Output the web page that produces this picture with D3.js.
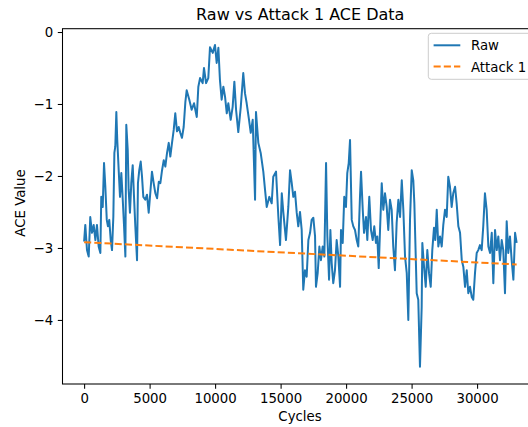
<!DOCTYPE html>
<html>
<head>
<meta charset="utf-8">
<script src="https://cdn.jsdelivr.net/npm/d3@7"></script>
<style>
body { margin: 0; background: #fff; }
text { font-family: "DejaVu Sans", sans-serif; }
</style>
</head>
<body>
<div id="chart"></div>
<script>
// cycles and ACE values
var rawCycles = [0, 90, 220, 350, 470, 600, 730, 860, 980, 1110,
  1240, 1310, 1420, 1520, 1620, 1730, 1820, 1920, 2030, 2130,
  2230, 2310, 2380, 2460, 2530, 2640, 2740, 2840, 2950, 3050,
  3150, 3220, 3330, 3400, 3500, 3600, 3710, 3810, 3910, 4040,
  4110, 4210, 4320, 4420, 4520, 4670, 4800, 4930, 5050, 5180,
  5310, 5440, 5570, 5700, 5820, 5950, 6080, 6200, 6330, 6460,
  6580, 6710, 6840, 6960, 7090, 7220, 7340, 7470, 7600, 7730,
  7830, 8030, 8210, 8390, 8600, 8720, 8850, 9050, 9150, 9310,
  9480, 9610, 9820, 9990, 10120, 10250, 10370, 10500, 10630, 10760,
  10890, 11010, 11190, 11340, 11470, 11600, 11770, 11960, 12150, 12280,
  12410, 12590, 12720, 12870, 13050, 13120, 13300, 13480, 13680, 13810,
  13940, 14140, 14320, 14440, 14650, 14830, 14960, 15090, 15210, 15410,
  15590,
  15720, 15850, 15970, 16100, 16230, 16350, 16480, 16610, 16730, 16860,
  16990, 17120, 17250, 17370, 17500, 17630, 17700, 17830, 17960, 18080,
  18210, 18340, 18470, 18570, 18700, 18800, 18900, 19020, 19150, 19280,
  19410, 19540, 19610, 19740, 19860, 19990, 20090, 20200, 20300, 20430,
  20550, 20680, 20810, 20930, 21060, 21140, 21270, 21370, 21520, 21620,
  21770, 21900, 22030, 22150, 22280, 22380, 22490, 22590, 22720, 22840,
  22970, 23100, 23220, 23350, 23480, 23600, 23730, 23860, 23990, 24120,
  24250, 24370, 24500, 24630, 24750, 24880, 25010, 25130, 25210, 25390,
  25510, 25640, 25770, 25820, 25950, 26080, 26200, 26330, 26460, 26580,
  26710, 26810, 26920, 27040, 27170, 27300, 27420, 27550, 27680, 27800,
  27930, 28060, 28180, 28320, 28440, 28570, 28700, 28830, 28950, 29080,
  29210, 29330, 29460, 29590, 29710, 29840, 29970, 30090, 30220, 30350,
  30470, 30600, 30730, 30860, 30990, 31120, 31240, 31370, 31500, 31620,
  31750, 31880, 32000, 32130, 32260, 32380, 32510, 32640, 32770, 32900,
  33020];

var rawValues = [-2.91, -2.68, -3.03, -3.12, -2.57, -2.79, -2.68, -2.89, -2.68, -2.98,
  -3.07, -2.29, -2.43, -1.82, -2.15, -2.61, -2.70, -2.61, -2.89, -3.03,
  -2.57, -1.68, -1.59, -1.11, -1.50, -1.92, -2.29, -1.96, -2.33, -2.70,
  -3.12, -1.29, -1.64, -2.19, -2.51, -2.10, -1.85, -2.29, -2.70, -3.17,
  -2.10, -1.92, -1.80, -2.01, -2.29, -2.33, -2.26, -2.51, -2.24, -1.94,
  -2.10, -2.24, -2.31, -2.08, -2.10, -1.92, -1.78, -1.87, -1.68, -1.54,
  -1.73, -1.54, -1.36, -1.13, -1.38, -1.32, -1.40, -1.47, -1.32, -0.97,
  -0.81, -0.94, -1.08, -0.99, -1.18, -0.76, -0.64, -0.71, -0.50, -0.71,
  -0.64, -0.21, -0.29, -0.18, -0.43, -0.22, -0.67, -0.94, -0.76, -0.90,
  -1.13, -0.99, -1.22, -1.04, -0.69, -1.08, -1.39, -1.04, -0.57, -0.85,
  -0.99, -1.22, -1.40, -1.22, -2.33, -1.11, -1.54, -1.68, -1.94, -2.19,
  -2.43, -2.29, -2.38, -2.01, -1.94, -2.57, -2.96, -2.24, -2.51, -2.89,
  -2.43,
  -1.92, -2.10, -2.29, -2.22, -2.51, -2.70, -2.50, -2.75, -3.58, -3.31,
  -3.40, -2.89, -2.79, -2.61, -2.58, -2.84, -3.54, -3.35, -2.98, -3.17,
  -2.98, -3.12, -1.82, -2.84, -3.44, -2.75, -3.21, -3.49, -3.31, -2.89,
  -3.12, -3.54, -2.75, -2.93, -2.29, -2.43, -1.96, -1.82, -1.50, -2.61,
  -2.70, -2.75, -2.89, -2.98, -2.29, -1.94, -2.47, -2.79, -2.57, -2.89,
  -2.29, -2.75, -2.89, -2.70, -2.93, -2.84, -3.28, -2.75, -2.10, -2.47,
  -2.24, -2.43, -2.75, -2.33, -2.47, -2.98, -3.31, -2.65, -2.33, -2.57,
  -2.06, -2.47, -3.12, -3.35, -4.00, -2.60, -1.92, -2.06, -2.38, -3.63,
  -3.72, -4.65, -3.82, -2.93, -3.26, -3.54, -3.03, -3.35, -3.54, -3.03,
  -2.72, -2.89, -2.47, -2.98, -2.84, -2.98, -2.68, -2.47, -2.57, -2.01,
  -2.15, -2.43, -2.24, -2.15, -2.38, -2.70, -2.79, -3.17, -3.26, -3.54,
  -3.31, -3.63, -3.54, -3.68, -3.72, -3.35, -3.07, -3.03, -2.96, -3.03,
  -2.70, -2.24, -2.47, -2.98, -3.07, -2.79, -3.49, -2.75, -3.03, -2.84,
  -3.17, -2.89, -3.03, -3.63, -2.63, -3.07, -2.84, -3.17, -3.44, -2.79,
  -2.93];

var attackCycles = [0, 33020];
var attackValues = [-2.92, -3.23];

var xTicks = [0, 5000, 10000, 15000, 20000, 25000, 30000];
var yTicks = [0, -1, -2, -3, -4];

var width = 528, height = 427;
var plotLeft = 62.5, plotRight = 538, plotTop = 28.7, plotBottom = 384;

var raw = rawCycles.map((c, i) => ({ x: c, y: rawValues[i] }));
var attack = attackCycles.map((c, i) => ({ x: c, y: attackValues[i] }));

var x = d3.scaleLinear().domain([-1650, 34650]).range([plotLeft, plotRight]);
var y = d3.scaleLinear().domain([-4.89, 0.046]).range([plotBottom, plotTop]);

var svg = d3.select("#chart")
  .append("svg")
  .attr("width", width)
  .attr("height", height);

var line = d3.line()
  .x(d => x(d.x))
  .y(d => y(d.y));

var plot = svg.append("g");

plot.append("path")
  .attr("d", line(raw))
  .attr("fill", "none")
  .attr("stroke", "#1f77b4")
  .attr("stroke-width", 2)
  .attr("stroke-linejoin", "round");

plot.append("path")
  .attr("d", line(attack))
  .attr("fill", "none")
  .attr("stroke", "#ff7f0e")
  .attr("stroke-width", 2)
  .attr("stroke-dasharray", "7.1,3.1");

// axes
var xAxis = d3.axisBottom(x).tickValues(xTicks).tickFormat(d3.format("d")).tickSize(4.7).tickPadding(4.7);
var yAxis = d3.axisLeft(y).tickValues(yTicks).tickFormat(d3.format("d")).tickSize(4.7).tickPadding(4.7);

var gx = svg.append("g").attr("transform", "translate(0," + plotBottom + ")").call(xAxis);
var gy = svg.append("g").attr("transform", "translate(" + plotLeft + ",0)").call(yAxis);

[gx, gy].forEach(g => {
  g.select(".domain").remove();
  g.selectAll("line").attr("stroke", "#000").attr("stroke-width", 1.05);
  g.selectAll("text").attr("fill", "#000").style("font-size", "13.3px").style("font-family", "DejaVu Sans");
});

// frame
svg.append("rect")
  .attr("x", plotLeft)
  .attr("y", plotTop)
  .attr("width", plotRight - plotLeft)
  .attr("height", plotBottom - plotTop)
  .attr("fill", "none")
  .attr("stroke", "#000")
  .attr("stroke-width", 1.05);

// titles
svg.append("text")
  .attr("x", (plotLeft + plotRight) / 2)
  .attr("y", 20)
  .attr("text-anchor", "middle")
  .style("font-size", "16px")
  .text("Raw vs Attack 1 ACE Data");

svg.append("text")
  .attr("x", 300)
  .attr("y", 421)
  .attr("text-anchor", "middle")
  .style("font-size", "13.3px")
  .text("Cycles");

svg.append("text")
  .attr("transform", "translate(24.5,203) rotate(-90)")
  .attr("text-anchor", "middle")
  .style("font-size", "13.3px")
  .text("ACE Value");

// legend
var legend = svg.append("g");
legend.append("rect")
  .attr("x", 428.3)
  .attr("y", 33.3)
  .attr("width", 105)
  .attr("height", 46)
  .attr("rx", 3)
  .attr("fill", "#fff")
  .attr("fill-opacity", 0.8)
  .attr("stroke", "#ccc")
  .attr("stroke-width", 1);

var legendItems = [
  { name: "Raw", color: "#1f77b4", dash: null, cy: 45.3 },
  { name: "Attack 1", color: "#ff7f0e", dash: "7.1,3.1", cy: 66.5 }
];

legendItems.forEach(d => {
  legend.append("line")
    .attr("x1", 433.6).attr("x2", 460.3)
    .attr("y1", d.cy).attr("y2", d.cy)
    .attr("stroke", d.color)
    .attr("stroke-width", 2)
    .attr("stroke-dasharray", d.dash);
  legend.append("text")
    .attr("x", 471)
    .attr("y", d.cy + 5)
    .style("font-size", "13.3px")
    .text(d.name);
});
</script>
</body>
</html>
